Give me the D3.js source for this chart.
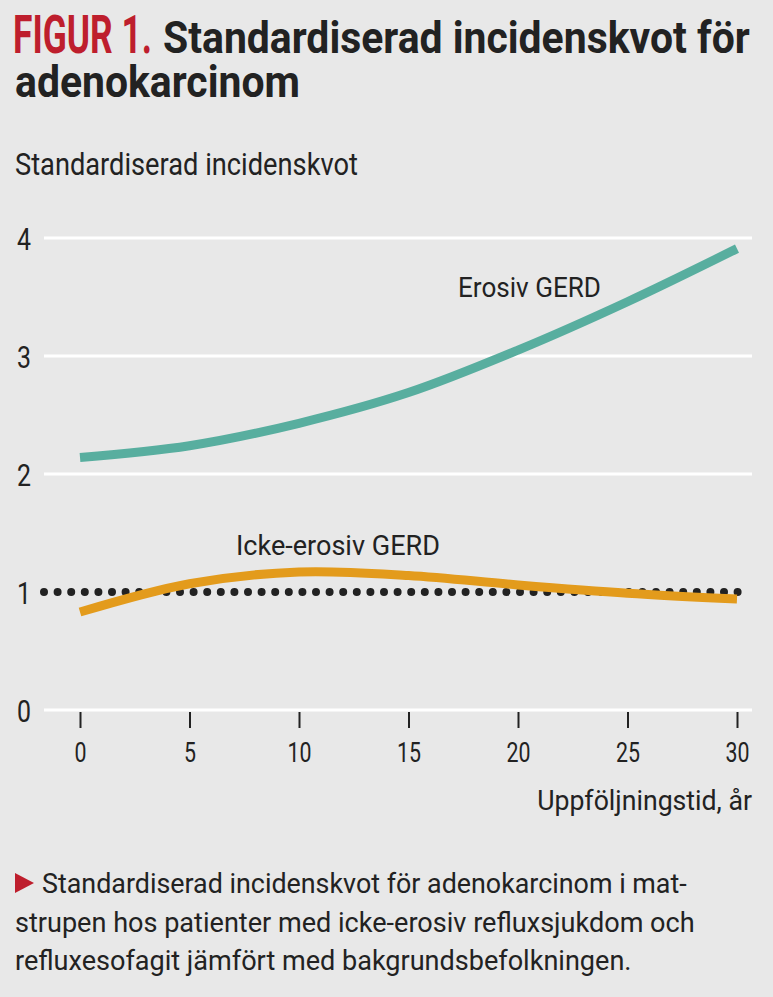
<!DOCTYPE html>
<html><head><meta charset="utf-8">
<script src="https://cdn.jsdelivr.net/npm/d3@7"></script>
<style>
html,body{margin:0;padding:0;background:#e8e8e8;}
svg{display:block;}
text{font-family:"Roboto","Liberation Sans",sans-serif;fill:#222;}
</style></head>
<body>
<script>
const years = [0, 5, 10, 15, 20, 25, 30];
const erosiv = [2.14, 2.24, 2.43, 2.69, 3.05, 3.46, 3.91];
const ickeErosiv = [0.83, 1.07, 1.17, 1.14, 1.06, 0.99, 0.94];
const yTicks = [0, 1, 2, 3, 4];
const xTicks = [0, 5, 10, 15, 20, 25, 30];
const reference = 1;

const W = 773, H = 997;
const svg = d3.select("body").append("svg").attr("width", W).attr("height", H);
svg.append("rect").attr("width", W).attr("height", H).attr("fill", "#e8e8e8");

const x = d3.scaleLinear().domain([0, 30]).range([80, 737]);
const y = d3.scaleLinear().domain([0, 4]).range([710, 238]);

// place text condensed horizontally to a target width via a transform
function txt(s, xx, yy, size, len, opts = {}) {
  const t = svg.append("text").attr("x", 0).attr("y", 0)
    .attr("font-size", size).text(s);
  if (opts.weight) t.attr("font-weight", opts.weight);
  if (opts.fill) t.attr("fill", opts.fill).style("fill", opts.fill);
  if (opts.anchor) t.attr("text-anchor", opts.anchor);
  const nat = t.node().getComputedTextLength();
  const sx = len / nat;
  t.attr("transform", `translate(${xx},${yy}) scale(${sx},1)`);
  return t;
}

// Title
txt("FIGUR 1.", 13, 53, 53, 139, {weight: 700, fill: "#be1e2d"});
txt("Standardiserad incidenskvot för", 163, 53, 44, 587, {weight: 700});
txt("adenokarcinom", 15, 97, 44, 285, {weight: 700});

// Y axis title
txt("Standardiserad incidenskvot", 15, 175, 31, 343);

// grid
const grid = svg.append("g");
yTicks.filter(d => d !== reference).forEach(d => {
  grid.append("line").attr("x1", 44).attr("x2", 752)
    .attr("y1", y(d)).attr("y2", y(d))
    .attr("stroke", "#ffffff").attr("stroke-width", 3);
});

// y tick labels
const yAxis = d3.axisLeft(y).tickValues(yTicks).tickSize(0).tickPadding(0).tickFormat(d3.format("d"));
const ya = svg.append("g").attr("transform", "translate(31,0)").call(yAxis);
ya.select(".domain").remove();
ya.selectAll("text").attr("font-size", 31).attr("font-family", null).attr("fill", "#222")
  .attr("dy", "0.36em")
  .each(function () {
    const n = this.getComputedTextLength();
    d3.select(this).attr("transform", `scale(${14 * this.textContent.length / n},1)`);
  });

// x axis ticks
const xAxis = d3.axisBottom(x).tickValues(xTicks).tickSize(16).tickPadding(14).tickFormat(d3.format("d"));
const xa = svg.append("g").attr("transform", "translate(0,712)").call(xAxis);
xa.select(".domain").remove();
xa.selectAll("line").attr("stroke", "#222").attr("stroke-width", 2);
xa.selectAll("text").attr("font-size", 28).attr("font-family", null).attr("fill", "#222")
  .each(function () {
    const n = this.getComputedTextLength();
    d3.select(this).attr("transform", `scale(${12 * this.textContent.length / n},1)`);
  });

txt("Uppföljningstid, år", 752, 810, 28, 215, {anchor: "end"});

// reference dotted line
svg.append("line").attr("x1", 44).attr("x2", 751).attr("y1", y(reference)).attr("y2", y(reference))
  .attr("stroke", "#222").attr("stroke-width", 8).attr("stroke-linecap", "round")
  .attr("stroke-dasharray", "0,13.6");

const line = d3.line().x((d, i) => x(years[i])).y(d => y(d)).curve(d3.curveCatmullRom.alpha(0.5));

svg.append("path").datum(erosiv).attr("d", line).attr("fill", "none")
  .attr("stroke", "#58ae9f").attr("stroke-width", 9);
svg.append("path").datum(ickeErosiv).attr("d", line).attr("fill", "none")
  .attr("stroke", "#e39b1c").attr("stroke-width", 9);

txt("Erosiv GERD", 458, 297, 28, 143);
txt("Icke-erosiv GERD", 236, 555, 28, 204);

// caption
svg.append("path").attr("d", "M15,873 L34,883 L15,893 Z").attr("fill", "#be1e2d");
txt("Standardiserad incidenskvot för adenokarcinom i mat-", 42, 893, 28, 645);
txt("strupen hos patienter med icke-erosiv refluxsjukdom och", 15, 932, 28, 680);
txt("refluxesofagit jämfört med bakgrundsbefolkningen.", 15, 970, 28, 617);
</script>
</body></html>
